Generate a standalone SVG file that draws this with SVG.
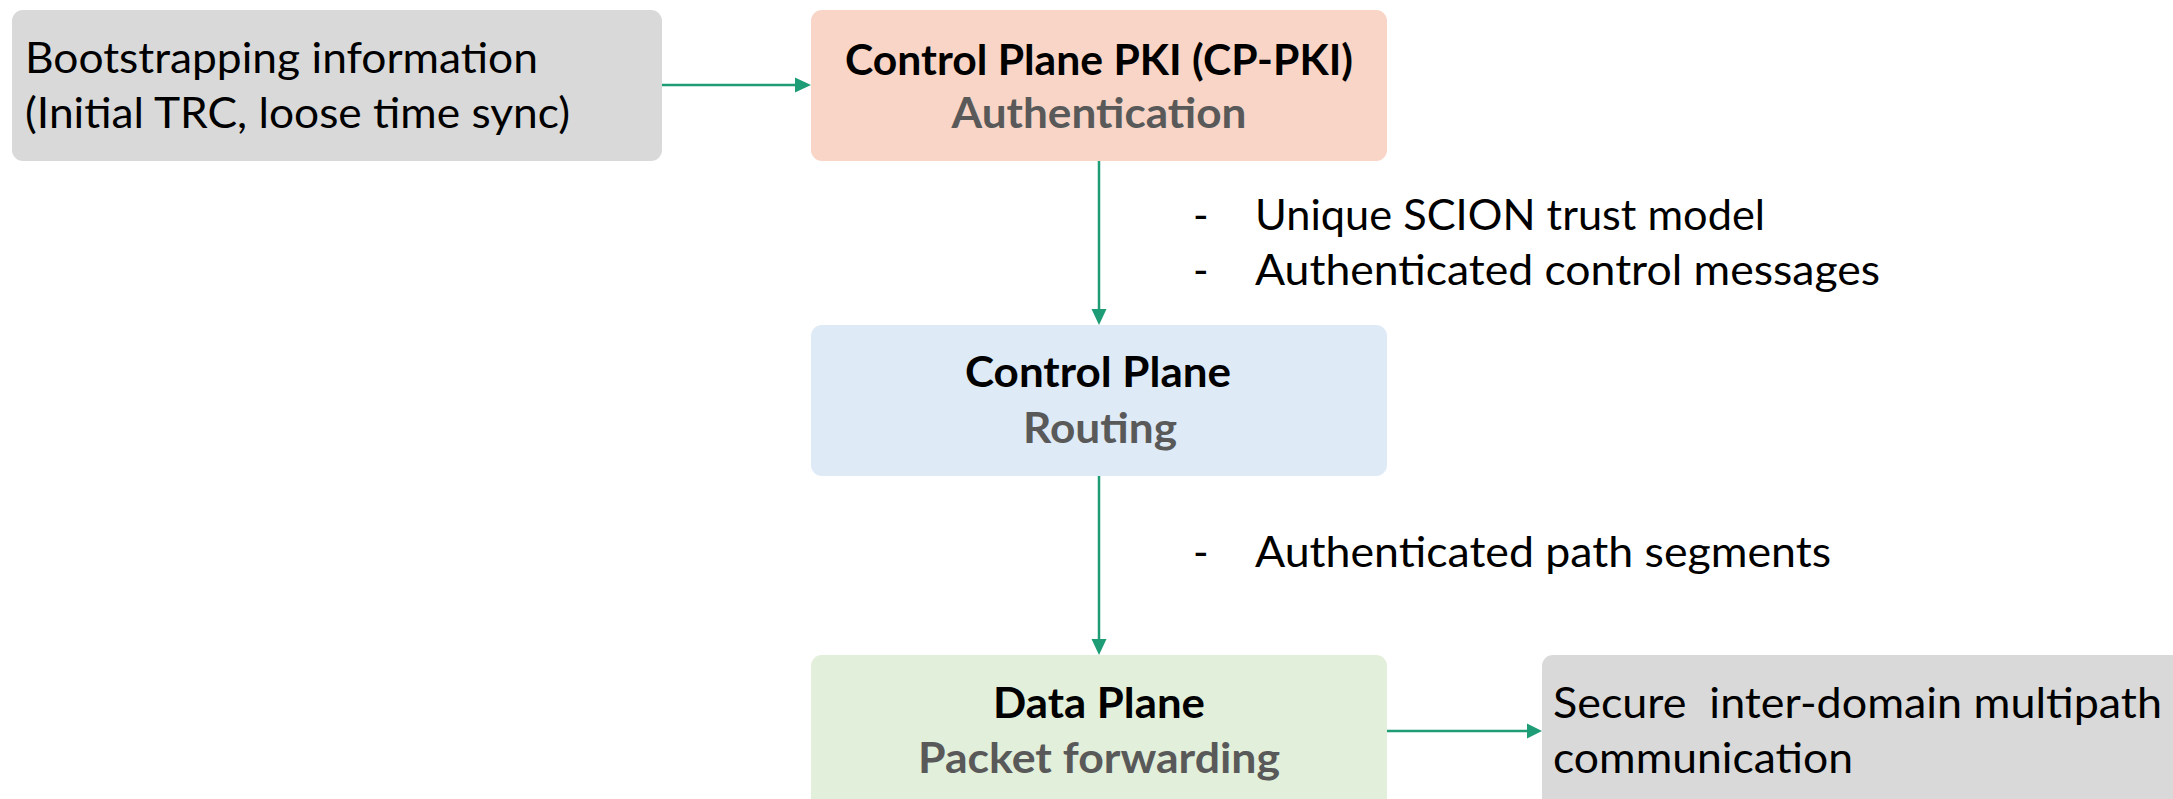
<svg xmlns="http://www.w3.org/2000/svg" width="2173" height="799" viewBox="0 0 2173 799">
<defs>
<style>
.t{font-family:Lato,"Liberation Sans",sans-serif;font-size:42px;fill:#000}
.b{font-family:Lato,"Liberation Sans",sans-serif;font-size:42px;font-weight:bold;fill:#000}
.g{font-family:Lato,"Liberation Sans",sans-serif;font-size:42px;font-weight:bold;fill:#595959}
.c{text-anchor:middle}
.ln{stroke:#1E9C76;stroke-width:2.5;fill:none}
.ah{fill:#1E9C76}
</style>
</defs>
<rect width="2173" height="799" fill="#fff"/>
<g id="bootstrap">
<rect x="12" y="10" width="650" height="151" rx="11" fill="#D9D9D9"/>
<text class="t" x="25" y="73" textLength="513" lengthAdjust="spacingAndGlyphs">Bootstrapping information</text>
<text class="t" x="25" y="128" textLength="545" lengthAdjust="spacingAndGlyphs">(Initial TRC, loose time sync)</text>
</g>
<g id="cppki">
<rect x="811" y="10" width="576" height="151" rx="11" fill="#F8D5C6"/>
<text class="b c" x="1099" y="75" textLength="508" lengthAdjust="spacingAndGlyphs">Control Plane PKI (CP-PKI)</text>
<text class="g c" x="1099" y="128" textLength="295" lengthAdjust="spacingAndGlyphs">Authentication</text>
</g>
<g id="controlplane">
<rect x="811" y="325" width="576" height="151" rx="11" fill="#DEEAF6"/>
<text class="b c" x="1098" y="387" textLength="266" lengthAdjust="spacingAndGlyphs">Control Plane</text>
<text class="g c" x="1100" y="443" textLength="154" lengthAdjust="spacingAndGlyphs">Routing</text>
</g>
<g id="dataplane">
<rect x="811" y="655" width="576" height="170" rx="11" fill="#E2EFDA"/>
<text class="b c" x="1099" y="718" textLength="212" lengthAdjust="spacingAndGlyphs">Data Plane</text>
<text class="g c" x="1099" y="773" textLength="362" lengthAdjust="spacingAndGlyphs">Packet forwarding</text>
</g>
<g id="result">
<rect x="1542" y="655" width="700" height="170" rx="11" fill="#D9D9D9"/>
<text class="t" x="1553" y="718" xml:space="preserve" textLength="609" lengthAdjust="spacingAndGlyphs">Secure  inter-domain multipath</text>
<text class="t" x="1553" y="773" textLength="300" lengthAdjust="spacingAndGlyphs">communication</text>
</g>
<g id="labels">
<text class="t" x="1193" y="230">-</text>
<text class="t" x="1255" y="230" textLength="510" lengthAdjust="spacingAndGlyphs">Unique SCION trust model</text>
<text class="t" x="1193" y="285">-</text>
<text class="t" x="1255" y="285" textLength="625" lengthAdjust="spacingAndGlyphs">Authenticated control messages</text>
<text class="t" x="1193" y="567">-</text>
<text class="t" x="1255" y="567" textLength="576" lengthAdjust="spacingAndGlyphs">Authenticated path segments</text>
</g>
<g id="connectors">
<line class="ln" x1="662" y1="85" x2="796" y2="85"/>
<polygon class="ah" points="795,77.5 811,85 795,92.5"/>
<line class="ln" x1="1099" y1="161" x2="1099" y2="310"/>
<polygon class="ah" points="1091.5,309 1099,325 1106.5,309"/>
<line class="ln" x1="1099" y1="476" x2="1099" y2="640"/>
<polygon class="ah" points="1091.5,639 1099,655 1106.5,639"/>
<line class="ln" x1="1387" y1="731" x2="1528" y2="731"/>
<polygon class="ah" points="1527,723.5 1542,731 1527,738.5"/>
</g>
</svg>
